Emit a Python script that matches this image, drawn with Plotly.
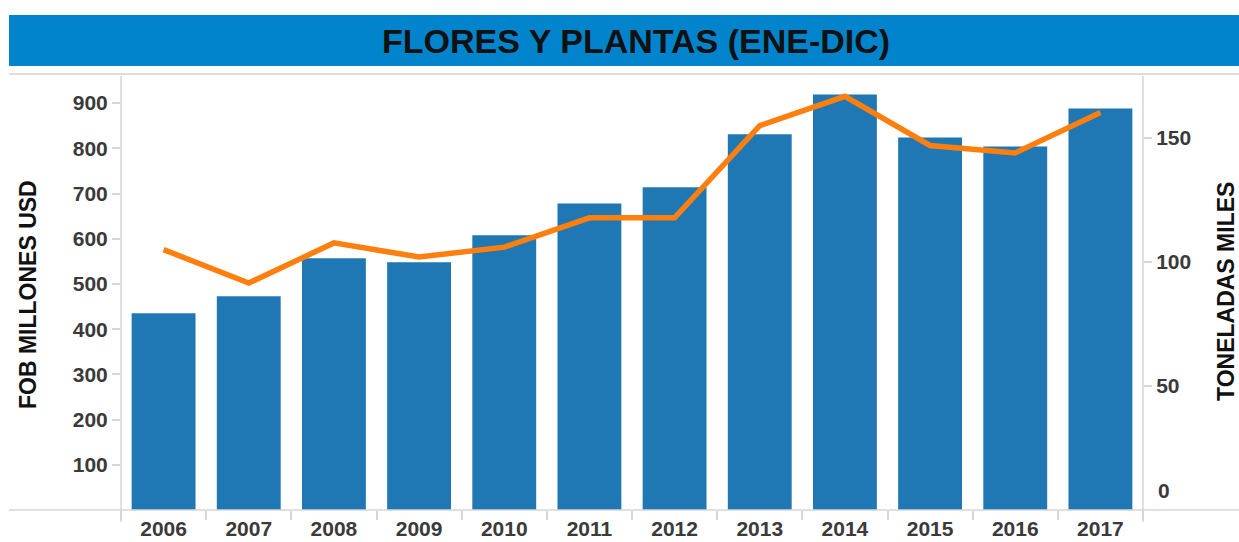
import plotly.graph_objects as go

years = ["2006", "2007", "2008", "2009", "2010", "2011", "2012", "2013", "2014", "2015", "2016", "2017"]
fob_millones_usd = [435, 473, 557, 548, 608, 678, 714, 831, 919, 824, 804, 888]
toneladas_miles = [105, 91.5, 107.7, 102, 106, 117.8, 117.8, 155, 166.8, 147, 144, 160.3]
left_ticks = [100, 200, 300, 400, 500, 600, 700, 800, 900]
right_ticks = [50, 100, 150]

FONT = "Liberation Sans, Arial, sans-serif"
GRAY = "#d6d6d6"

fig = go.Figure()
fig.add_trace(go.Bar(x=years, y=fob_millones_usd, marker=dict(color="#1f77b4", line=dict(width=0)),
                     yaxis="y", showlegend=False))
fig.add_trace(go.Scatter(x=years, y=toneladas_miles, mode="lines",
                         line=dict(color="#ff7f0e", width=5.5), yaxis="y2", showlegend=False))

tickfont = dict(family=FONT, size=21, color="#3a3a3a", weight="bold")

fig.update_layout(
    width=1239, height=542,
    margin=dict(l=121, r=96, t=76, b=32),
    paper_bgcolor="white", plot_bgcolor="white",
    bargap=0.25,
    xaxis=dict(type="category", tickson="boundaries", ticks="outside", ticklen=9, tickcolor=GRAY,
               tickwidth=1.5, showgrid=False, showline=False, zeroline=False, tickfont=tickfont,
               automargin=False, ticklabelstandoff=4),
    yaxis=dict(range=[0, 960], tickvals=left_ticks, ticks="outside", ticklen=8, tickcolor=GRAY,
               tickwidth=1.5, showgrid=False, showline=False, zeroline=False, tickfont=tickfont,
               automargin=False),
    yaxis2=dict(range=[0, 175], tickvals=right_ticks, overlaying="y", side="right", ticks="outside",
                ticklen=8, tickcolor=GRAY, tickwidth=1.5, showgrid=False, showline=False,
                zeroline=False, tickfont=tickfont, automargin=False),
)

W, H = 1022.0, 434.0
def px(xpix):
    return (xpix - 121) / W
def py(ypix):
    return (510 - ypix) / H

shapes = [
    dict(type="rect", xref="paper", yref="paper", x0=px(9), x1=px(1245), y0=py(66), y1=py(15),
         fillcolor="#0284cc", line=dict(width=0)),
    dict(type="line", xref="paper", yref="paper", x0=px(9), x1=px(1245), y0=py(74), y1=py(74),
         line=dict(color="#dedede", width=2)),
    dict(type="line", xref="paper", yref="paper", x0=px(9), x1=px(1245), y0=0, y1=0,
         line=dict(color=GRAY, width=1.5)),
    dict(type="line", xref="paper", yref="paper", x0=0, x1=0, y0=py(522), y1=1,
         line=dict(color=GRAY, width=1.5)),
    dict(type="line", xref="paper", yref="paper", x0=1, x1=1, y0=py(522), y1=1,
         line=dict(color=GRAY, width=1.5)),
]
fig.update_layout(shapes=shapes)

fig.add_annotation(text="FLORES Y PLANTAS (ENE-DIC)", xref="paper", yref="paper",
                   x=px(636), y=py(41), xanchor="center", yanchor="middle", showarrow=False,
                   font=dict(family=FONT, size=34, color="#111111", weight="bold"))
fig.add_annotation(text="FOB MILLONES USD", xref="paper", yref="paper", x=px(28), y=py(295),
                   xanchor="center", yanchor="middle", textangle=-90, showarrow=False,
                   font=dict(family=FONT, size=23, color="#111111", weight="bold"))
fig.add_annotation(text="TONELADAS MILES", xref="paper", yref="paper", x=px(1226), y=py(292),
                   xanchor="center", yanchor="middle", textangle=-90, showarrow=False,
                   font=dict(family=FONT, size=23, color="#111111", weight="bold"))
fig.add_annotation(text="0", xref="paper", yref="paper", x=px(1156), y=py(490),
                   xanchor="left", yanchor="middle", showarrow=False, font=tickfont)

fig.write_html("out.html", config={"displayModeBar": False},
               post_script="document.body.style.margin='0';document.body.style.overflow='hidden';")
